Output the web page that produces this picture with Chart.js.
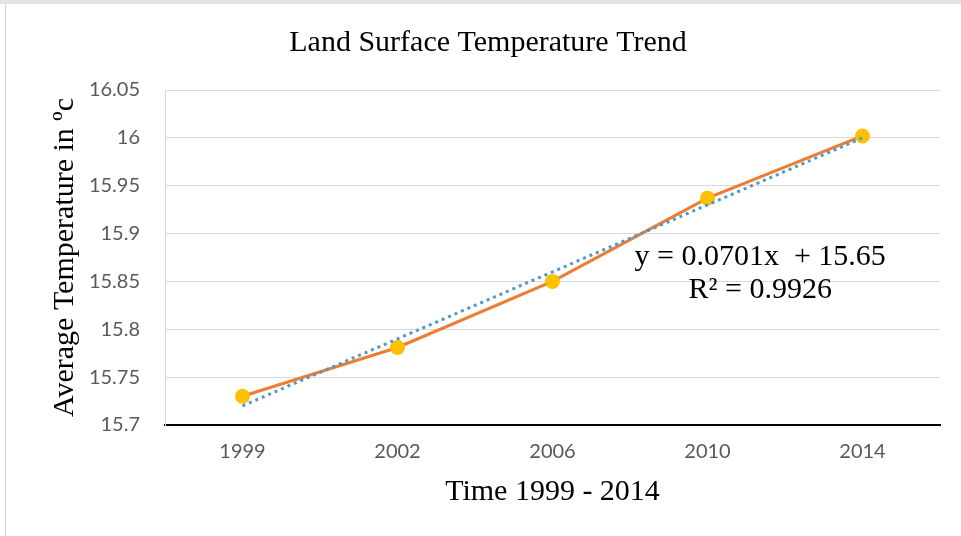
<!DOCTYPE html>
<html>
<head>
<meta charset="utf-8">
<script src="https://cdn.jsdelivr.net/npm/chart.js@4"></script>
<style>
  html, body { margin: 0; padding: 0; background: #fff; }
  #wrap { position: relative; width: 961px; height: 536px; overflow: hidden; }
  #topband { position: absolute; left: 0; top: 0; width: 961px; height: 4px; background: #e4e4e4; }
  #leftline { position: absolute; left: 5px; top: 4px; width: 1px; height: 532px; background: #d6d6d6; }
  canvas { position: absolute; left: 0; top: 0; }
</style>
</head>
<body>
<div id="wrap">
  <div id="topband"></div>
  <div id="leftline"></div>
  <canvas id="lstChart" width="961" height="536"></canvas>
</div>
<script>
const years = ["1999", "2002", "2006", "2010", "2014"];
const temperature = [15.730, 15.781, 15.850, 15.937, 16.002];
const trendline = [15.720, 15.790, 15.860, 15.930, 16.000];
const equationText = ["y = 0.0701x  + 15.65", "R\u00B2 = 0.9926"];
// where the equation label sits, in axis units (category index, temperature)
const equationAnchor = { x: 3.34, y: [15.875, 15.841] };

const serif = "'Liberation Serif', 'Times New Roman', serif";
const sans = "Lato, 'Liberation Sans', sans-serif";

const equationLabel = {
  id: "equationLabel",
  afterDatasetsDraw(chart) {
    const ctx = chart.ctx;
    const xs = chart.scales.x;
    const ys = chart.scales.y;
    ctx.save();
    ctx.font = "30px " + serif;
    ctx.fillStyle = "#000";
    ctx.textAlign = "center";
    ctx.textBaseline = "middle";
    equationText.forEach((t, i) => {
      ctx.fillText(t, xs.getPixelForValue(equationAnchor.x), ys.getPixelForValue(equationAnchor.y[i]));
    });
    ctx.restore();
  }
};

new Chart(document.getElementById("lstChart").getContext("2d"), {
  type: "line",
  data: {
    labels: years,
    datasets: [
      {
        label: "Linear trend",
        data: trendline,
        borderColor: "#4f97cc",
        borderWidth: 3,
        borderDash: [3, 4],
        pointRadius: 0,
        fill: false,
        tension: 0
      },
      {
        label: "Temperature",
        data: temperature,
        borderColor: "#ED7D31",
        borderWidth: 3,
        pointRadius: 7.5,
        pointBackgroundColor: "#FFC000",
        pointBorderColor: "#FFC000",
        pointBorderWidth: 0,
        fill: false,
        tension: 0
      }
    ]
  },
  options: {
    responsive: false,
    animation: false,
    layout: { padding: { left: 36, right: 21, top: 7, bottom: 11 } },
    plugins: {
      legend: { display: false },
      tooltip: { enabled: false },
      title: {
        display: true,
        text: "Land Surface Temperature Trend",
        color: "#000",
        font: { family: serif, size: 30, weight: "normal" },
        padding: { top: 18, bottom: 29 }
      }
    },
    scales: {
      x: {
        offset: true,
        grid: { display: false, drawTicks: false },
        border: { display: true, color: "#000", width: 2 },
        ticks: { color: "#595959", font: { family: sans, size: 20 }, padding: 15 },
        title: {
          display: true,
          text: "Time 1999 - 2014",
          color: "#000",
          font: { family: serif, size: 30 },
          padding: { top: 0, bottom: 15 }
        },
        afterFit(scale) { scale.height = 100; }
      },
      y: {
        min: 15.7,
        max: 16.05,
        grid: { color: "#d9d9d9", lineWidth: 1, drawTicks: false },
        border: { display: true, color: "#d9d9d9", width: 1 },
        ticks: {
          stepSize: 0.05,
          color: "#595959",
          font: { family: sans, size: 20 },
          padding: 25,
          callback: v => parseFloat(v.toFixed(2)).toString()
        },
        title: {
          display: true,
          text: "Average Temperature in \u00BAc",
          color: "#000",
          font: { family: serif, size: 30 },
          padding: { top: 11, bottom: 0 }
        },
        afterFit(scale) { scale.width = 129; }
      }
    }
  },
  plugins: [equationLabel]
});
</script>
</body>
</html>
